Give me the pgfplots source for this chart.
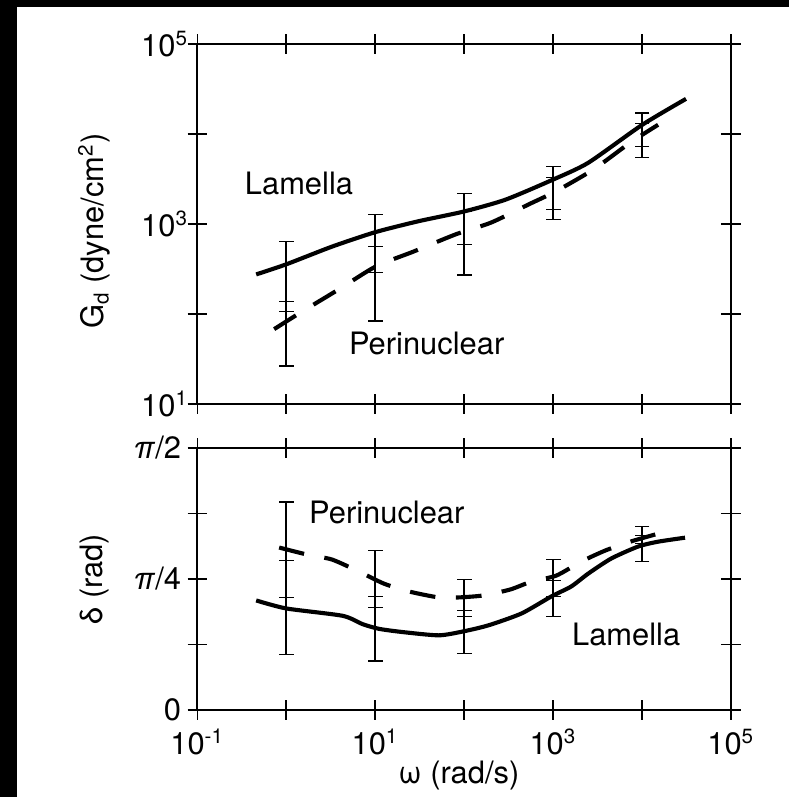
\documentclass[border=0pt]{standalone}
\usepackage{pgfplots}
\pgfplotsset{compat=1.18}
\usepackage{fontspec}
\setmainfont{TeX Gyre Heros}
\newcommand{\fs}{\fontsize{12}{14}\selectfont}
\pgfplotsset{
  myaxisstyle/.style={
    scale only axis,
    width=207.4pt,
    xmin=0.1, xmax=1e5,
    xtick={0.1,1,10,100,1000,10000,100000},
    tick align=center,
    major tick length=7.6pt,
    minor tick length=0pt,
    axis line style={line width=0.7pt},
    every tick/.style={black, line width=0.6pt},
    tick label style={font=\fs},
    label style={font=\fs},
    /pgf/number format/assume math mode=true,
    clip=false,
  },
  solidfit/.style={black, line width=1.6pt, smooth, tension=0.4},
  dashfit/.style={black, line width=1.6pt, smooth, tension=0.4, dash pattern=on 10pt off 8pt},
  errbar/.style={black, line width=0.6pt, mark=-, mark size=2.9pt, mark options={solid, line width=0.6pt}, unbounded coords=jump},
}
\begin{document}
\begin{tikzpicture}
\fill[black] (0,0) rectangle (306.6pt,309.7pt);
\fill[white] (6.6pt,0) rectangle (306.6pt,307.0pt);
% ---------------- top panel ----------------
\begin{axis}[xmode=log, ymode=log, myaxisstyle,
  at={(76.7pt,152.7pt)}, anchor=south west,
  height=139.9pt,
  ymin=10, ymax=1e5,
  ytick={10,100,1000,10000,100000},
  yticklabels={10\textsuperscript{1},,10\textsuperscript{3},,10\textsuperscript{5}},
  yticklabel style={xshift=3.8pt},
  xticklabels={{},{},{},{},{},{},{}},
  ylabel={G\textsubscript{d} (dyne/cm\textsuperscript{2})},
  ylabel style={at={(axis description cs:-0.193,0.48)}, anchor=center},
]
\addplot[solidfit] coordinates {
(0.459,275) (1,356) (3.27,560) (10,810) (30,1067) (100,1377) (292,1862) (1000,3112) (2489,4786) (10000,12590) (31260,24550)
};
\addplot[dashfit] coordinates {
(0.731,67.8) (1.466,104.5) (3.91,188) (10.2,338) (27.2,495) (80.3,766) (203,1040) (528,1644) (1062,2291) (2831,4018) (7362,8000) (15170,12650)
};
\addplot[errbar] coordinates {
(1,640) (1,107) (1,nan) (1,138) (1,26.4) (1,nan)
(10,1274) (10,290) (10,nan) (10,564) (10,83.2) (10,nan)
(100,2178) (100,593) (100,nan) (100,1377) (100,269) (100,nan)
(1000,4335) (1000,1449) (1000,nan) (1000,3273) (1000,1122) (1000,nan)
(10000,17180) (10000,7228) (10000,nan) (10000,13000) (10000,5458)
};
\node[font=\fs] at (axis cs:1.39,2812) {Lamella};
\node[font=\fs] at (axis cs:37.9,47.4) {Perinuclear};
\end{axis}
% ---------------- bottom panel ----------------
\begin{axis}[xmode=log, myaxisstyle,
  at={(76.7pt,33.7pt)}, anchor=south west,
  height=101.9pt,
  ymin=0, ymax=1.5708,
  ytick={0,0.3927,0.7854,1.1781,1.5708},
  yticklabels={0,,\textit{π}/4,,\textit{π}/2},
  yticklabel style={xshift=1pt},
  xticklabels={10\textsuperscript{-1},,10\textsuperscript{1},,10\textsuperscript{3},,10\textsuperscript{5}},
  ylabel={δ (rad)},
  ylabel style={at={(axis description cs:-0.193,0.5)}, anchor=center},
  xlabel={ω (rad/s)},
  xlabel style={at={(axis description cs:0.49,-0.251)}, anchor=center},
]
\addplot[solidfit] coordinates {
(0.459,0.657) (1,0.609) (4.3,0.565) (7.2,0.515) (11,0.487) (20,0.468) (51.8,0.448) (98.7,0.472) (188,0.508) (442,0.579) (957,0.681) (1604,0.741) (2489,0.818) (4508,0.908) (9057,0.980) (15170,1.009) (30480,1.033)
};
\addplot[dashfit] coordinates {
(0.832,0.974) (1.71,0.932) (3.27,0.902) (6.56,0.830) (12.5,0.758) (23.8,0.711) (51.8,0.675) (86.7,0.675) (165,0.687) (332,0.723) (571,0.770) (1089,0.806) (2080,0.890) (3864,0.956) (7362,1.009) (15170,1.057)
};
\addplot[errbar] coordinates {
(1,1.248) (1,0.675) (1,nan) (1,0.896) (1,0.334) (1,nan)
(10,0.956) (10,0.615) (10,nan) (10,0.681) (10,0.293) (10,nan)
(100,0.782) (100,0.561) (100,nan) (100,0.597) (100,0.340) (100,nan)
(1000,0.902) (1000,0.681) (1000,nan) (1000,0.776) (1000,0.561) (1000,nan)
(10000,1.099) (10000,0.997) (10000,nan) (10000,1.045) (10000,0.890)
};
\node[font=\fs] at (axis cs:13.5,1.183) {Perinuclear};
\node[font=\fs] at (axis cs:6637,0.454) {Lamella};
\end{axis}
\end{tikzpicture}
\end{document}
